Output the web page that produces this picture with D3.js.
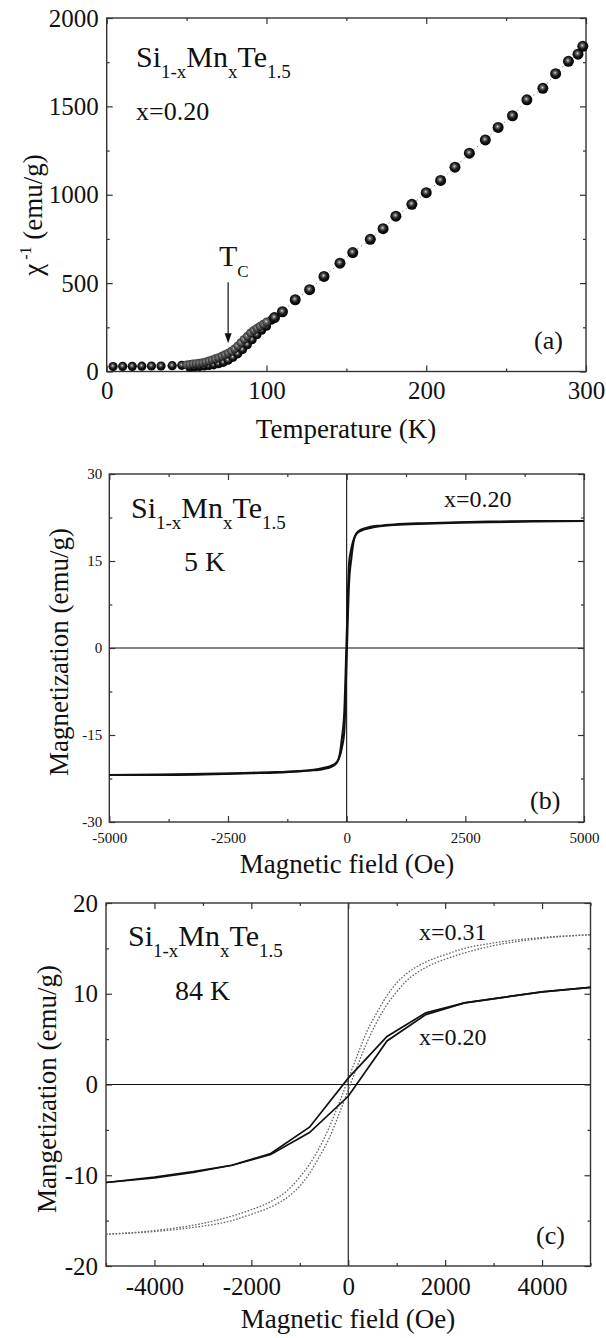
<!DOCTYPE html>
<html>
<head>
<meta charset="utf-8">
<script src="https://cdn.jsdelivr.net/npm/d3@7"></script>
<style>
  html, body { margin: 0; padding: 0; background: #fff; }
  svg, svg text { font-family: "Times New Roman", "Liberation Serif", "DejaVu Serif", serif; }
  .frame { fill: none; stroke: #333; stroke-width: 1.4; }
  .axis path { display: none; }
  .axis line { stroke: #333; stroke-width: 1.2; }
  .axis text { fill: #111; }
  .zero { stroke: #111; stroke-width: 1.1; }
  text { fill: #111; }
</style>
</head>
<body>
<div id="figure"></div>
<script>
// (a) inverse susceptibility vs temperature
const tempLow = [4, 10, 16, 22, 28, 34, 41, 47];
const chiLow = [28, 29, 29, 30, 31, 31, 33, 35];
const tempBand = [50, 52, 54, 56, 58, 60, 62, 64, 66, 68, 70, 72, 74, 76, 78, 80, 82, 84, 86, 88, 90, 92, 94, 96, 98, 100];
const chiBand = [38, 40, 43, 45, 47, 50, 55, 60, 66, 72, 79, 87, 95, 104, 115, 128, 145, 163, 182, 200, 218, 233, 245, 256, 268, 280];
const tempBandLow = [52, 55, 58, 61, 64, 67, 70, 73, 76, 79, 82, 85, 88, 91, 94, 97, 100, 103];
const chiBandLow = [25, 27, 29, 31, 34, 38, 44, 52, 64, 80, 100, 124, 152, 180, 208, 234, 256, 290];
const tempHigh = [105, 110, 118, 127, 136, 146, 154, 165, 173, 181, 191, 200, 209, 218, 227, 237, 245, 254, 263, 273, 281, 289, 295, 298];
const chiHigh = [305, 338, 406, 463, 538, 613, 673, 748, 808, 879, 946, 1012, 1081, 1156, 1235, 1310, 1381, 1447, 1537, 1602, 1685, 1755, 1795, 1840];
const curieTemp = 76;
const arrowChi = [505, 160];
const tempTicks = [0, 100, 200, 300];
const tempMinor = [50, 150, 250];
const chiTicks = [0, 500, 1000, 1500, 2000];
const chiMinor = [250, 750, 1250, 1750];

// (b) hysteresis at 5 K, x = 0.20
const fieldB = [-5000, -4000, -3000, -2000, -1500, -1000, -700, -500, -300, -200, -150, -100, -50, 0, 50, 100, 150, 200, 300, 500, 700, 1000, 1500, 2000, 3000, 4000, 5000];
const magBUp = [-21.9, -21.8, -21.7, -21.5, -21.4, -21.2, -21.0, -20.7, -20.2, -19.6, -18.8, -17.2, -14.5, -2.0, 11.0, 15.5, 18.5, 19.7, 20.4, 20.9, 21.1, 21.3, 21.5, 21.6, 21.8, 21.9, 21.9];
const magBDown = [-21.9, -21.9, -21.8, -21.6, -21.5, -21.3, -21.1, -20.9, -20.4, -19.7, -18.5, -15.5, -11.0, 2.0, 14.5, 17.2, 18.8, 19.6, 20.2, 20.7, 21.0, 21.2, 21.4, 21.5, 21.7, 21.8, 21.9];
const fieldTicksB = [-5000, -2500, 0, 2500, 5000];
const fieldMinorB = [-3750, -1250, 1250, 3750];
const magTicksB = [-30, -15, 0, 15, 30];
const magMinorB = [-22.5, -7.5, 7.5, 22.5];

// (c) hysteresis at 84 K, x = 0.20 and x = 0.31
const fieldC20 = [-5000, -4000, -3200, -2400, -1600, -800, 0, 800, 1600, 2400, 3200, 4000, 5000];
const magC20Down = [-10.8, -10.3, -9.7, -8.9, -7.6, -4.7, 0.7, 5.3, 7.9, 9.0, 9.6, 10.2, 10.7];
const magC20Up = [-10.8, -10.2, -9.6, -8.9, -7.7, -5.3, -1.3, 4.8, 7.7, 9.0, 9.6, 10.2, 10.7];
const fieldC31 = [-5000, -4000, -3000, -2400, -2000, -1600, -1200, -1000, -800, -600, -400, -200, 0, 200, 400, 600, 800, 1000, 1200, 1600, 2000, 2400, 3000, 4000, 5000];
const magC31Down = [-16.5, -16.1, -15.3, -14.5, -13.8, -12.9, -11.4, -10.2, -8.8, -7.0, -4.8, -2.2, 0.6, 3.4, 6.0, 8.0, 9.8, 11.2, 12.2, 13.5, 14.3, 15.0, 15.6, 16.2, 16.5];
const magC31Up = [-16.5, -16.2, -15.6, -15.0, -14.3, -13.5, -12.2, -11.2, -9.8, -8.0, -6.0, -3.4, -0.6, 2.2, 4.8, 7.0, 8.8, 10.2, 11.4, 12.9, 13.8, 14.5, 15.3, 16.1, 16.5];
const fieldTicksC = [-4000, -2000, 0, 2000, 4000];
const fieldMinorC = [-5000, -3000, -1000, 1000, 3000, 5000];
const magTicksC = [-20, -10, 0, 10, 20];
const magMinorC = [-15, -5, 5, 15];

(function () {
    "use strict";

    const width = 606;
    const height = 1338;
    const serif = '"Times New Roman", "Liberation Serif", serif';

    function zip(xs, ys) {
        return xs.map((v, i) => [v, ys[i]]);
    }

    function drawAxes(g, x, y, box, cfg) {
        const sides = [
            { axis: d3.axisBottom, scale: x, at: `translate(0,${box.bottom})`, major: cfg.xTicks, minor: cfg.xMinor, label: true, pad: cfg.xPad },
            { axis: d3.axisTop, scale: x, at: `translate(0,${box.top})`, major: cfg.xTicks, minor: cfg.xMinor, label: false },
            { axis: d3.axisLeft, scale: y, at: `translate(${box.left},0)`, major: cfg.yTicks, minor: cfg.yMinor, label: true, pad: cfg.yPad },
            { axis: d3.axisRight, scale: y, at: `translate(${box.right},0)`, major: cfg.yTicks, minor: cfg.yMinor, label: false }
        ];

        for (const side of sides) {
            const major = side.axis(side.scale)
                .tickValues(side.major)
                .tickSizeInner(-6)
                .tickSizeOuter(0)
                .tickPadding(side.pad || 0)
                .tickFormat(side.label ? (d => String(d)) : (() => ""));
            g.append("g")
                .attr("class", "axis")
                .attr("transform", side.at)
                .call(major)
                .attr("font-size", cfg.tickFont)
                .attr("font-family", serif);

            g.append("g")
                .attr("class", "axis minor")
                .attr("transform", side.at)
                .call(side.axis(side.scale)
                    .tickValues(side.minor)
                    .tickSizeInner(-3)
                    .tickSizeOuter(0)
                    .tickFormat(() => ""));
        }

        g.append("rect")
            .attr("class", "frame")
            .attr("x", box.left)
            .attr("y", box.top)
            .attr("width", box.right - box.left)
            .attr("height", box.bottom - box.top);
    }

    function drawFormula(g, x, y, big, small) {
        const text = g.append("text")
            .attr("x", x)
            .attr("y", y)
            .style("font-size", big + "px");
        const shift = 11;
        const parts = [
            ["Si", false], ["1-x", true], ["Mn", false], ["x", true], ["Te", false], ["1.5", true]
        ];
        let down = false;
        for (const [str, sub] of parts) {
            const span = text.append("tspan").text(str);
            if (sub) {
                span.attr("dy", shift).style("font-size", small + "px");
                down = true;
            } else {
                if (down) {
                    span.attr("dy", -shift);
                }
                down = false;
            }
        }
    }

    function addText(g, x, y, str, size, anchor) {
        return g.append("text")
            .attr("x", x)
            .attr("y", y)
            .attr("text-anchor", anchor || "start")
            .style("font-size", size + "px")
            .text(str);
    }

    function addYLabel(g, cx, cy, str, size) {
        return g.append("text")
            .attr("transform", `translate(${cx},${cy}) rotate(-90)`)
            .attr("text-anchor", "middle")
            .style("font-size", size + "px")
            .text(str);
    }

    function zeroLines(g, x, y, box) {
        g.append("line").attr("class", "zero")
            .attr("x1", x(0)).attr("x2", x(0))
            .attr("y1", box.top).attr("y2", box.bottom);
        g.append("line").attr("class", "zero")
            .attr("x1", box.left).attr("x2", box.right)
            .attr("y1", y(0)).attr("y2", y(0));
    }

    function drawPanelA(svg) {
        const box = { left: 106.7, right: 586, top: 18, bottom: 371.5 };
        const x = d3.scaleLinear().domain([0, 300]).range([box.left, box.right]);
        const y = d3.scaleLinear().domain([0, 2000]).range([box.bottom, box.top]);
        const g = svg.append("g").attr("class", "panel-a");

        drawAxes(g, x, y, box, {
            xTicks: tempTicks, xMinor: tempMinor, yTicks: chiTicks, yMinor: chiMinor,
            tickFont: 25, xPad: 10, yPad: 8
        });

        const line = d3.line().x(d => x(d[0])).y(d => y(d[1]));
        const upper = zip(tempLow, chiLow).concat(zip(tempBand, chiBand), zip(tempHigh, chiHigh));
        g.append("path")
            .attr("d", line(upper))
            .attr("fill", "none")
            .attr("stroke", "#888")
            .attr("stroke-width", 1)
            .attr("stroke-dasharray", "1.5,3");

        const groups = [
            { data: zip(tempBandLow, chiBandLow), fill: "url(#ball)", r: 4.6 },
            { data: zip(tempLow, chiLow), fill: "url(#ball)", r: 4.6 },
            { data: zip(tempBand, chiBand), fill: "url(#ballLight)", r: 4.4 },
            { data: zip(tempHigh, chiHigh), fill: "url(#ball)", r: 5.5 }
        ];
        for (const grp of groups) {
            g.append("g").selectAll("circle")
                .data(grp.data)
                .join("circle")
                .attr("cx", d => x(d[0]))
                .attr("cy", d => y(d[1]))
                .attr("r", grp.r)
                .attr("fill", grp.fill);
        }

        // Tc arrow
        const ax = x(curieTemp);
        g.append("line")
            .attr("x1", ax).attr("x2", ax)
            .attr("y1", y(arrowChi[0])).attr("y2", y(arrowChi[1]) - 8)
            .attr("stroke", "#111").attr("stroke-width", 1.2);
        g.append("path")
            .attr("d", `M${ax - 3.5},${y(arrowChi[1]) - 10}L${ax + 3.5},${y(arrowChi[1]) - 10}L${ax},${y(arrowChi[1])}Z`)
            .attr("fill", "#111");
        const tc = g.append("text")
            .attr("x", 219)
            .attr("y", 266)
            .style("font-size", "30px")
            .text("T");
        tc.append("tspan").attr("dy", 11).style("font-size", "17px").text("C");

        drawFormula(g, 136, 67, 30, 19);
        addText(g, 136, 120, "x=0.20", 26);
        addText(g, 534, 349, "(a)", 26);
        addText(g, 346, 438, "Temperature (K)", 27, "middle");

        const yl = g.append("text")
            .attr("transform", "translate(42,215) rotate(-90)")
            .attr("text-anchor", "middle")
            .style("font-size", "27px");
        yl.append("tspan").text("χ");
        yl.append("tspan").attr("dy", -11).style("font-size", "16px").text(" -1");
        yl.append("tspan").attr("dy", 11).text(" (emu/g)");
    }

    function drawPanelB(svg) {
        const box = { left: 109.3, right: 584, top: 474, bottom: 822 };
        const x = d3.scaleLinear().domain([-5000, 5000]).range([box.left, box.right]);
        const y = d3.scaleLinear().domain([-30, 30]).range([box.bottom, box.top]);
        const g = svg.append("g").attr("class", "panel-b");

        zeroLines(g, x, y, box);
        drawAxes(g, x, y, box, {
            xTicks: fieldTicksB, xMinor: fieldMinorB, yTicks: magTicksB, yMinor: magMinorB,
            tickFont: 15, xPad: 10, yPad: 7
        });

        const line = d3.line().x(d => x(d[0])).y(d => y(d[1])).curve(d3.curveMonotoneX);
        for (const branch of [magBUp, magBDown]) {
            g.append("path")
                .attr("d", line(zip(fieldB, branch)))
                .attr("fill", "none")
                .attr("stroke", "#111")
                .attr("stroke-width", 2);
        }

        drawFormula(g, 131, 518, 30, 19);
        addText(g, 184, 571, "5 K", 28);
        addText(g, 444, 507, "x=0.20", 24);
        addText(g, 530, 809, "(b)", 26);
        addText(g, 347, 873, "Magnetic field (Oe)", 27, "middle");
        addYLabel(g, 68, 652, "Magnetization (emu/g)", 27);
    }

    function drawPanelC(svg) {
        const box = { left: 106, right: 590.5, top: 903, bottom: 1266 };
        const x = d3.scaleLinear().domain([-5000, 5000]).range([box.left, box.right]);
        const y = d3.scaleLinear().domain([-20, 20]).range([box.bottom, box.top]);
        const g = svg.append("g").attr("class", "panel-c");

        zeroLines(g, x, y, box);
        drawAxes(g, x, y, box, {
            xTicks: fieldTicksC, xMinor: fieldMinorC, yTicks: magTicksC, yMinor: magMinorC,
            tickFont: 25, xPad: 11, yPad: 8
        });

        const smooth = d3.line().x(d => x(d[0])).y(d => y(d[1])).curve(d3.curveMonotoneX);
        for (const branch of [magC31Up, magC31Down]) {
            g.append("path")
                .attr("d", smooth(zip(fieldC31, branch)))
                .attr("fill", "none")
                .attr("stroke", "#666")
                .attr("stroke-width", 1.3)
                .attr("stroke-dasharray", "1.6,1.6");
        }

        const straight = d3.line().x(d => x(d[0])).y(d => y(d[1]));
        for (const branch of [magC20Up, magC20Down]) {
            g.append("path")
                .attr("d", straight(zip(fieldC20, branch)))
                .attr("fill", "none")
                .attr("stroke", "#111")
                .attr("stroke-width", 1.7);
        }

        drawFormula(g, 128, 946, 30, 19);
        addText(g, 175, 1000, "84 K", 28);
        addText(g, 419, 940, "x=0.31", 24);
        addText(g, 419, 1045, "x=0.20", 24);
        addText(g, 536, 1244, "(c)", 26);
        addText(g, 348, 1328, "Magnetic field (Oe)", 27, "middle");
        addYLabel(g, 56, 1089, "Mangetization (emu/g)", 27);
    }

    const svg = d3.select("#figure")
        .append("svg")
        .attr("width", width)
        .attr("height", height)
        .attr("font-family", serif);

    const defs = svg.append("defs");
    const ball = defs.append("radialGradient")
        .attr("id", "ball")
        .attr("cx", "45%").attr("cy", "42%").attr("r", "60%");
    ball.append("stop").attr("offset", "0%").attr("stop-color", "#e0e0e0");
    ball.append("stop").attr("offset", "22%").attr("stop-color", "#666");
    ball.append("stop").attr("offset", "55%").attr("stop-color", "#151515");
    ball.append("stop").attr("offset", "100%").attr("stop-color", "#000");

    const ballLight = defs.append("radialGradient")
        .attr("id", "ballLight")
        .attr("cx", "45%").attr("cy", "42%").attr("r", "60%");
    ballLight.append("stop").attr("offset", "0%").attr("stop-color", "#eee");
    ballLight.append("stop").attr("offset", "25%").attr("stop-color", "#777");
    ballLight.append("stop").attr("offset", "100%").attr("stop-color", "#111");

    drawPanelA(svg);
    drawPanelB(svg);
    drawPanelC(svg);
}());
</script>
</body>
</html>
